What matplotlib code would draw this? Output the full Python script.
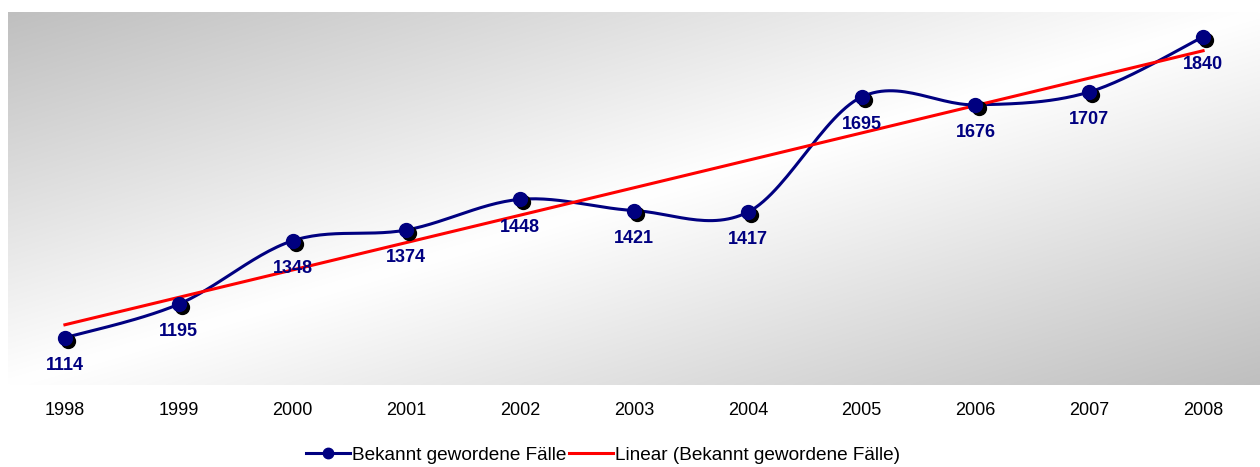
import numpy as np
import matplotlib
matplotlib.use("Agg")
import matplotlib.pyplot as plt
from matplotlib import transforms
from matplotlib.lines import Line2D

plt.rcParams['font.family'] = ['Liberation Sans', 'DejaVu Sans']

years = ['1998', '1999', '2000', '2001', '2002', '2003', '2004', '2005', '2006', '2007', '2008']
cases = [1114, 1195, 1348, 1374, 1448, 1421, 1417, 1695, 1676, 1707, 1840]

navy = '#000080'

x = np.arange(len(years))
y = np.array(cases, dtype=float)


def smooth(xs, ys, n=30):
    # bezier smoothing through the points (like the office "smoothed line")
    px = np.concatenate([[xs[0]], xs, [xs[-1]]])
    py = np.concatenate([[ys[0]], ys, [ys[-1]]])
    ox, oy = [], []
    for i in range(1, len(px) - 2):
        p0, p1, p2, p3 = (np.array([px[j], py[j]]) for j in (i - 1, i, i + 1, i + 2))
        c1 = p1 + (p2 - p0) / 6
        c2 = p2 - (p3 - p1) / 6
        t = np.linspace(0, 1, n)[:, None]
        b = (1 - t) ** 3 * p1 + 3 * (1 - t) ** 2 * t * c1 + 3 * (1 - t) * t ** 2 * c2 + t ** 3 * p2
        ox.extend(b[:, 0])
        oy.extend(b[:, 1])
    return np.array(ox), np.array(oy)


fig = plt.figure(figsize=(12.6, 4.67), dpi=100)
ax = fig.add_axes([8 / 1260, 82 / 467, 1252 / 1260, 373 / 467])

# diagonal gray-white-gray background
gx, gy = np.meshgrid(np.linspace(0, 1, 400), np.linspace(0, 1, 200))
t = (gx + gy) / 2
g = np.abs(t - 0.5) * 2
shade = 1 - 0.25 * g
img = np.dstack([shade, shade, shade])
ax.imshow(img, extent=[0, 1, 0, 1], transform=ax.transAxes, aspect='auto', zorder=0,
          origin='upper', interpolation='bilinear')

sx, sy = smooth(x, y)
ax.plot(sx, sy, color=navy, lw=2.2, zorder=2, solid_capstyle='round')

coef = np.polyfit(x, y, 1)
ax.plot(x[[0, -1]], np.polyval(coef, x[[0, -1]]), color='red', lw=2.2, zorder=3)

shadow = transforms.offset_copy(ax.transData, fig, x=2.2, y=-2.2, units='points')
ax.plot(x, y, 'o', color='black', ms=10, transform=shadow, zorder=4)
ax.plot(x, y, 'o', color=navy, ms=10, zorder=5)

for xi, yi in zip(x, cases):
    ax.annotate(str(yi), (xi, yi), xytext=(0, -18.5), textcoords='offset points',
                ha='center', va='center_baseline', color=navy, fontsize=13,
                fontweight='bold', zorder=6)

ax.set_xlim(-0.5, len(years) - 0.5)
ax.set_ylim(1000, 1900)
ax.set_xticks(x)
ax.set_xticklabels(years, fontsize=13)
ax.tick_params(axis='x', length=0, pad=12)
ax.set_yticks([])
for s in ax.spines.values():
    s.set_visible(False)

handles = [Line2D([], [], color=navy, lw=2.2, marker='o', ms=7.5),
           Line2D([], [], color='red', lw=2.2)]
fig.legend(handles, ['Bekannt gewordene Fälle', 'Linear (Bekannt gewordene Fälle)'],
           loc='center', bbox_to_anchor=(603 / 1260, 1 - 455 / 467), ncol=2, frameon=False,
           fontsize=13.7, handlelength=2.3, handletextpad=0.12, columnspacing=0.15)

fig.savefig('out.png', dpi=100)
